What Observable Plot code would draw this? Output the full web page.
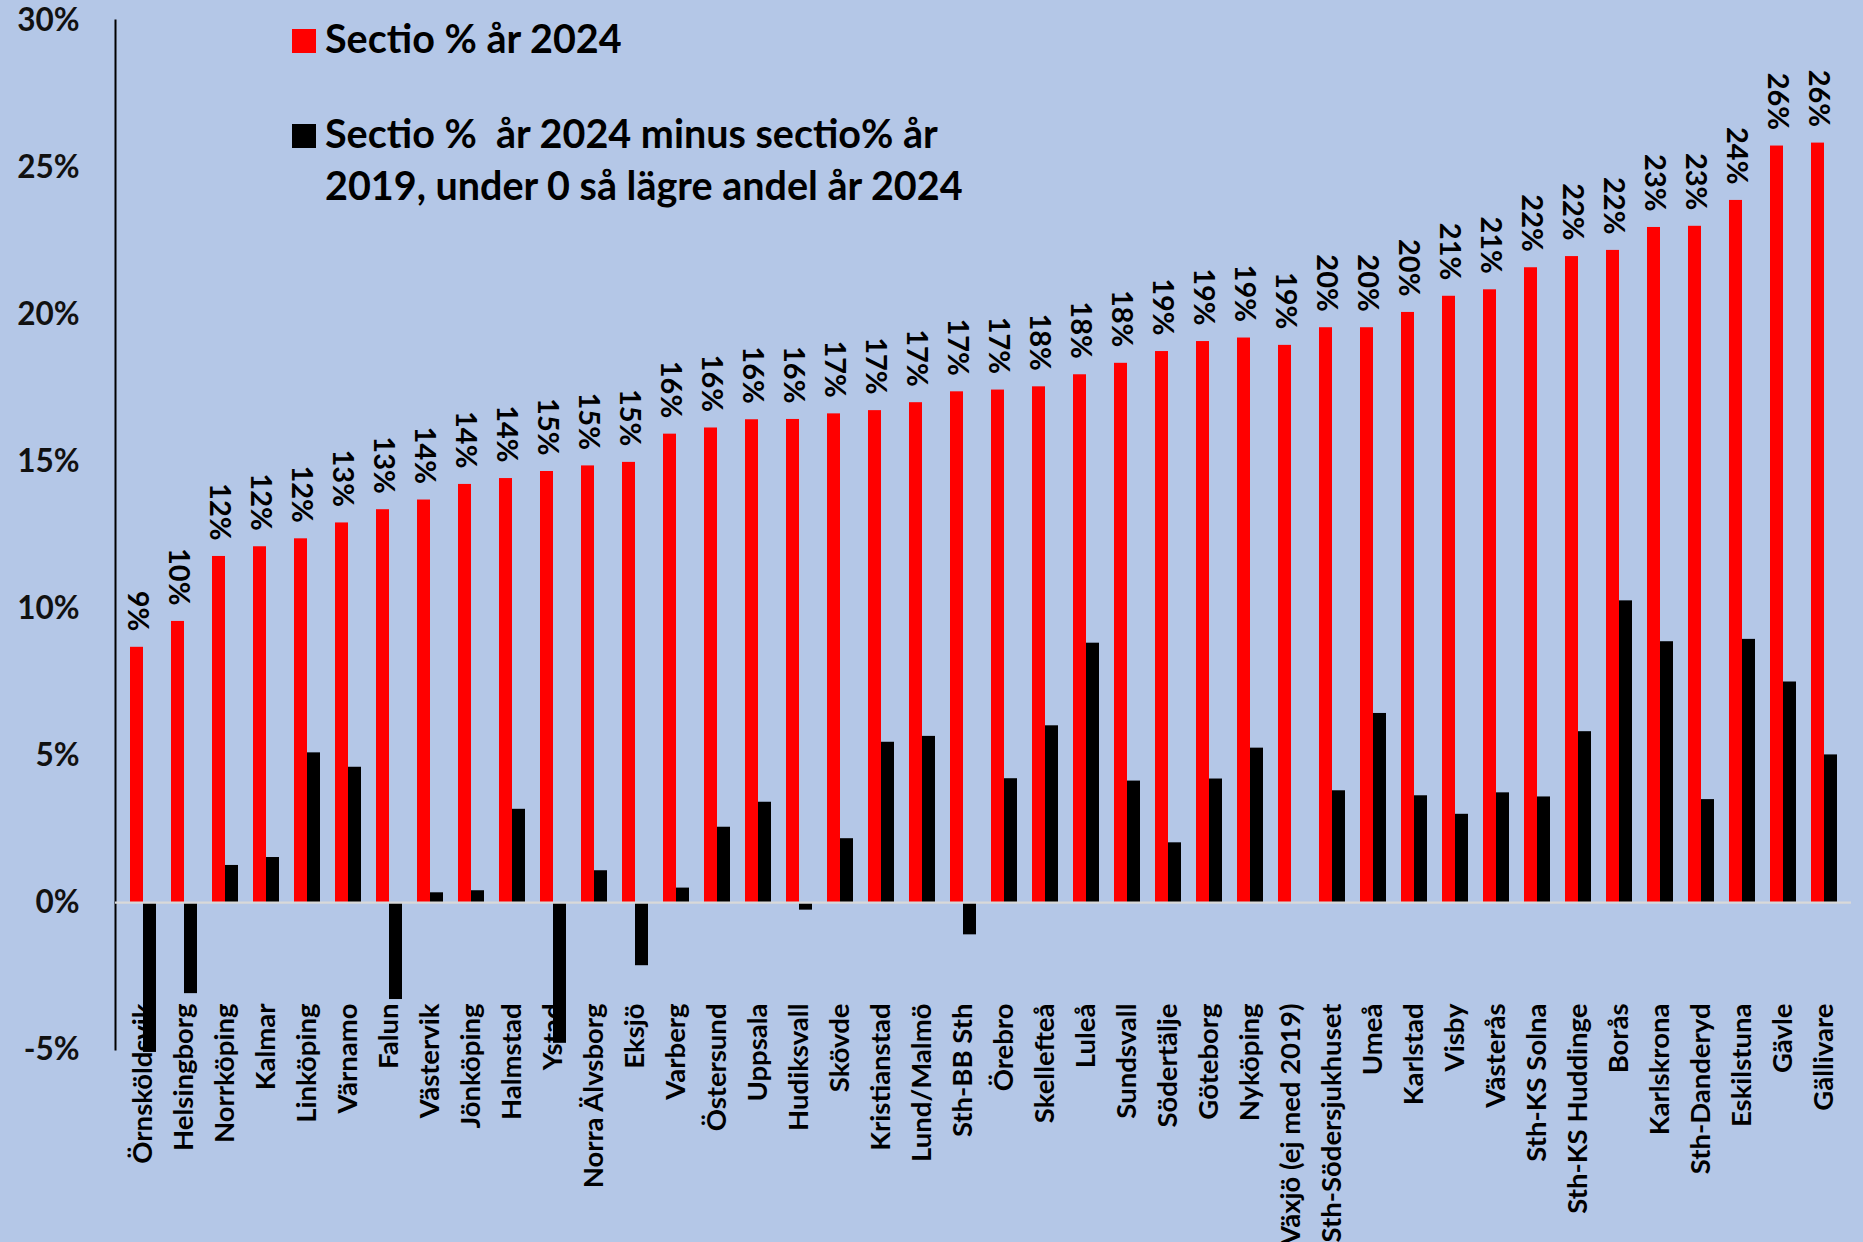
<!DOCTYPE html>
<html><head><meta charset="utf-8">
<script src="https://cdn.jsdelivr.net/npm/d3@7"></script>
<script src="https://cdn.jsdelivr.net/npm/@observablehq/plot@0.6"></script>
<style>
html,body{margin:0;padding:0;background:#B4C7E7;}
#wrap{position:relative;width:1863px;height:1242px;overflow:hidden;background:#B4C7E7;font-family:Lato,"Open Sans",sans-serif;}
.leg{position:absolute;font-weight:bold;font-size:39.5px;line-height:52px;color:#000;white-space:pre;}
.sw{position:absolute;width:24px;height:24px;}
</style></head><body><div id="wrap"></div>
<script>
const categories = ["Örnsköldsvik","Helsingborg","Norrköping","Kalmar","Linköping","Värnamo","Falun","Västervik","Jönköping","Halmstad","Ystad","Norra Älvsborg","Eksjö","Varberg","Östersund","Uppsala","Hudiksvall","Skövde","Kristianstad","Lund/Malmö","Sth-BB Sth","Örebro","Skellefteå","Luleå","Sundsvall","Södertälje","Göteborg","Nyköping","Växjö (ej med 2019)","Sth-Södersjukhuset","Umeå","Karlstad","Visby","Västerås","Sth-KS Solna","Sth-KS Huddinge","Borås","Karlskrona","Sth-Danderyd","Eskilstuna","Gävle","Gällivare"];
const sectio2024 = [8.68,9.56,11.77,12.10,12.37,12.91,13.36,13.69,14.22,14.42,14.66,14.85,14.97,15.93,16.14,16.42,16.43,16.62,16.73,17.00,17.37,17.43,17.54,17.95,18.34,18.74,19.08,19.20,18.95,19.55,19.55,20.07,20.62,20.84,21.59,21.97,22.18,22.96,23.00,23.88,25.73,25.83];
const diff2024vs2019 = [-5.1,-3.1,1.26,1.53,5.09,4.6,-3.3,0.33,0.4,3.17,-4.79,1.08,-2.15,0.49,2.56,3.41,-0.26,2.17,5.45,5.65,-1.1,4.21,6.01,8.82,4.13,2.03,4.2,5.25,null,3.8,6.43,3.63,3.0,3.73,3.59,5.81,10.26,8.87,3.5,8.95,7.5,5.02];
const yTicks = [-5,0,5,10,15,20,25,30];
const seriesNames = ["Sectio % år 2024","Sectio %  år 2024 minus sectio% år\n2019, under 0 så lägre andel år 2024"];
const seriesColors = ["#FF0000","#000000"];

const rows = categories.map((c,i)=>({city:c, v:sectio2024[i], d:diff2024vs2019[i]}));
const font = 'Lato, "Open Sans", sans-serif';

const chart = Plot.plot({
  width: 1863,
  height: 1242,
  marginTop: 20,
  marginBottom: 193,
  marginLeft: 115,
  marginRight: 12,
  style: {background: "#B4C7E7", fontFamily: font, fontWeight: "bold", color: "#000"},
  x: {type: "band", domain: categories, paddingInner: 0.3715, paddingOuter: 0.169, axis: null},
  y: {domain: [-5, 30], axis: null},
  marks: [
    Plot.axisY({ticks: yTicks, tickFormat: d => d + "%", tickSize: 0, tickPadding: 36, fontSize: 31.5, fontWeight: "bold", fill: "#111"}),
    Plot.frame({anchor: "left", stroke: "#000", strokeWidth: 2}),
    Plot.barY(rows, {x: "city", y1: 0, y2: "v", fill: seriesColors[0], insetRight: 13}),
    Plot.barY(rows.filter(r => r.d != null), {x: "city", y1: 0, y2: "d", fill: seriesColors[1], insetLeft: 13}),
    Plot.ruleY([0], {stroke: "#D9D9D9", strokeWidth: 2.25}),
    Plot.text(rows, {x: "city", y: "v", text: r => Math.round(r.v) + "%", rotate: 90, textAnchor: "end", lineAnchor: "middle", dx: -6.5, dy: -16, fontSize: 29, fontWeight: "bold", fill: "#000"}),
    Plot.text(categories, {x: d => d, frameAnchor: "bottom", rotate: -90, textAnchor: "end", lineAnchor: "middle", dy: -46, fontSize: 27.5, fontWeight: "bold", fill: "#000"})
  ]
});
const wrap = document.getElementById("wrap");
wrap.appendChild(chart);
chart.style.position = "absolute"; chart.style.left = "0"; chart.style.top = "0";

// legend
const legTops = [12, 107];
seriesNames.forEach((name, i) => {
  const sw = document.createElement("div");
  sw.className = "sw";
  sw.style.left = "292px";
  sw.style.top = (legTops[i] + 17) + "px";
  sw.style.background = seriesColors[i];
  wrap.appendChild(sw);
  const t = document.createElement("div");
  t.className = "leg";
  t.style.left = "325px";
  t.style.top = legTops[i] + "px";
  t.textContent = name;
  wrap.appendChild(t);
});
</script></body></html>
